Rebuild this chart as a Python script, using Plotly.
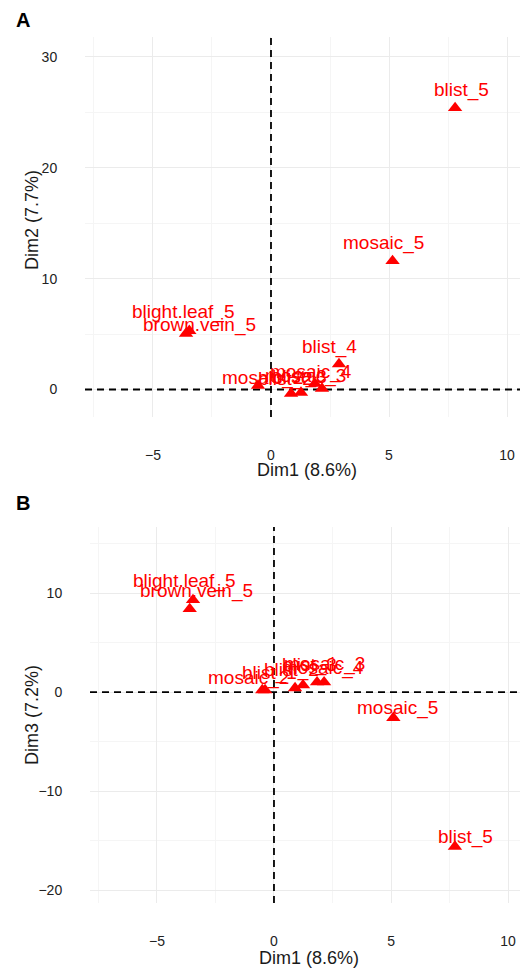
import plotly.graph_objects as go

# --- Panel A: Dim1 vs Dim2 ---
labels_a = ["blist_5", "mosaic_5", "blight.leaf_5", "brown.vein_5", "blist_4",
            "mosaic_2", "blist_2", "blist_3", "mosaic_4", "mosaic_3"]
dim1_a = [7.8, 5.15, -3.46, -3.6, 2.88, -0.55, 0.85, 1.27, 1.86, 2.16]
dim2_a = [25.4, 11.6, 5.3, 5.05, 2.3, 0.36, -0.36, -0.27, 0.54, 0.09]

# --- Panel B: Dim1 vs Dim3 ---
labels_b = ["blist_5", "mosaic_5", "blight.leaf_5", "brown.vein_5",
            "mosaic_2", "blist_1", "blist_2", "blist_3", "mosaic_4", "mosaic_3"]
dim1_b = [7.73, 5.1, -3.46, -3.6, -0.5, -0.38, 0.9, 1.24, 1.84, 2.14]
dim3_b = [-15.6, -2.6, 9.3, 8.4, 0.2, 0.2, 0.4, 0.7, 1.0, 1.0]

x_ticks = [-5, 0, 5, 10]
y_ticks_a = [0, 10, 20, 30]
y_ticks_b = [-20, -10, 0, 10]

# axis extents
x_range_a, y_range_a = [-7.88, 10.55], [-2.48, 31.8]
x_range_b, y_range_b = [-7.86, 10.51], [-21.3, 16.67]

# label nudges (pixels) so the repelled text sits near each point
shift_a = [(6, 18), (-9, 18), (-6, 19), (13, 9), (-9, 17),
           (4, 8), (-6, 15), (-1, 16), (-4, 12), (-16, 13)]
shift_b = [(11, 10), (4, 10), (-9, 19), (7, 18),
           (-14, 12), (4, 17), (-4, 18), (6, 20), (6, 14), (0, 18)]

RED = "#FF0000"
W, H = 522, 971
font_txt = "Liberation Sans, Arial, sans-serif"
dash_line = dict(color="black", width=1.8, dash="7px,5px")

fig = go.Figure()

# dashed reference lines through the origin (over the grid, under the points)
for xa, ya, xr, yr in (("x", "y", x_range_a, y_range_a), ("x2", "y2", x_range_b, y_range_b)):
    fig.add_trace(go.Scatter(x=[0, 0], y=yr, mode="lines", xaxis=xa, yaxis=ya,
                             line=dash_line, hoverinfo="skip", showlegend=False))
    fig.add_trace(go.Scatter(x=xr, y=[0, 0], mode="lines", xaxis=xa, yaxis=ya,
                             line=dash_line, hoverinfo="skip", showlegend=False))

fig.add_trace(go.Scatter(x=dim1_a, y=dim2_a, mode="markers", xaxis="x", yaxis="y",
                         marker=dict(symbol="triangle-up", size=12.5, color=RED),
                         hoverinfo="text", text=labels_a, showlegend=False))
fig.add_trace(go.Scatter(x=dim1_b, y=dim3_b, mode="markers", xaxis="x2", yaxis="y2",
                         marker=dict(symbol="triangle-up", size=12.5, color=RED),
                         hoverinfo="text", text=labels_b, showlegend=False))

annotations = []
for lab, xv, yv, (dx, dy) in zip(labels_a, dim1_a, dim2_a, shift_a):
    annotations.append(dict(x=xv, y=yv, xref="x", yref="y", text=lab, showarrow=False,
                            xanchor="center", yanchor="middle",
                            xshift=dx, yshift=dy, font=dict(family=font_txt, size=19, color=RED)))
for lab, xv, yv, (dx, dy) in zip(labels_b, dim1_b, dim3_b, shift_b):
    annotations.append(dict(x=xv, y=yv, xref="x2", yref="y2", text=lab, showarrow=False,
                            xanchor="center", yanchor="middle",
                            xshift=dx, yshift=dy, font=dict(family=font_txt, size=19, color=RED)))


def px(x):
    return x / W


def py(y):
    return 1 - y / H


def paper_text(text, x, y, font, angle=0):
    return dict(text=text, x=px(x), y=py(y), xref="paper", yref="paper", showarrow=False,
                xanchor="center", yanchor="middle", textangle=angle, font=font)


title_font = dict(family=font_txt, size=18, color="#1a1a1a")
panel_font = dict(family=font_txt, size=20, color="black")
annotations += [
    paper_text("<b>A</b>", 23, 20, panel_font),
    paper_text("<b>B</b>", 23, 503, panel_font),
    paper_text("Dim1 (8.6%)", 307, 470, title_font),
    paper_text("Dim1 (8.6%)", 309, 958, title_font),
    paper_text("Dim2 (7.7%)", 32, 220, title_font, -90),
    paper_text("Dim3 (7.2%)", 32, 715, title_font, -90),
]

grid_major = "#ebebeb"
grid_minor = "#f5f5f5"
tick_font = dict(family=font_txt, size=14, color="#222222")


def xaxis(domain, rng, anchor):
    return dict(domain=domain, range=rng, anchor=anchor, tickvals=x_ticks,
                showgrid=True, gridcolor=grid_major, gridwidth=1,
                minor=dict(dtick=2.5, tick0=0, showgrid=True, gridcolor=grid_minor, gridwidth=1),
                zeroline=False, showline=False, ticks="outside", ticklen=25,
                tickcolor="rgba(0,0,0,0)", tickfont=tick_font)


def yaxis(domain, rng, anchor, vals):
    return dict(domain=domain, range=rng, anchor=anchor, tickvals=vals,
                showgrid=True, gridcolor=grid_major, gridwidth=1,
                minor=dict(dtick=5, tick0=0, showgrid=True, gridcolor=grid_minor, gridwidth=1),
                zeroline=False, showline=False, ticks="outside", ticklen=24,
                tickcolor="rgba(0,0,0,0)", tickfont=tick_font)


fig.update_layout(
    width=W, height=H,
    margin=dict(l=0, r=0, t=0, b=0),
    paper_bgcolor="white", plot_bgcolor="white",
    xaxis=xaxis([px(85), px(520)], x_range_a, "y"),
    yaxis=yaxis([py(417), py(37)], y_range_a, "x", y_ticks_a),
    xaxis2=xaxis([px(90), px(520)], x_range_b, "y2"),
    yaxis2=yaxis([py(903), py(527)], y_range_b, "x2", y_ticks_b),
    annotations=annotations,
)

fig.write_html("out.html")
